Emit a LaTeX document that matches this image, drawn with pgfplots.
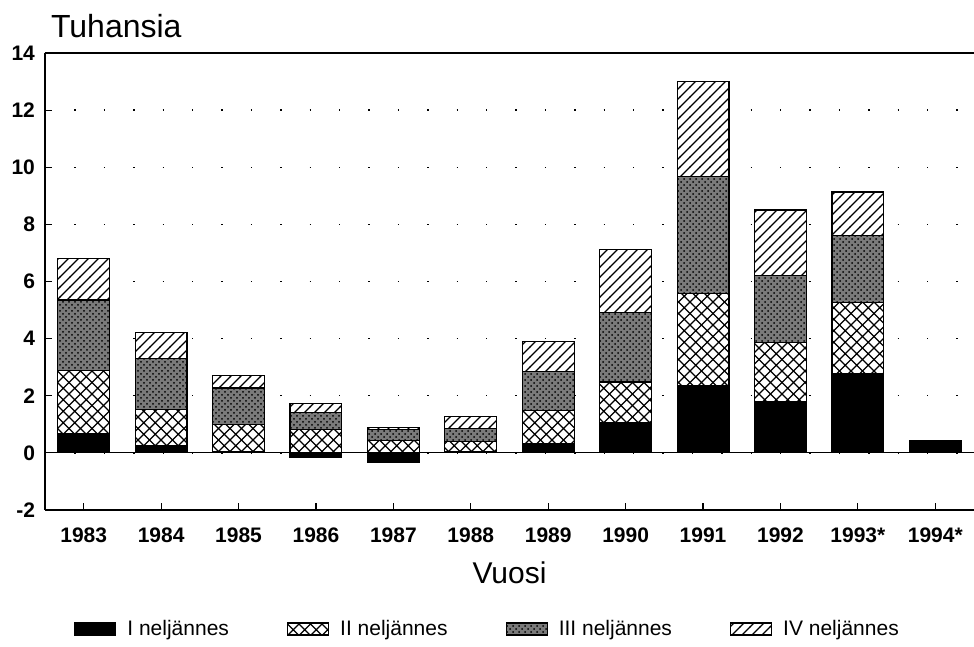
\documentclass[border=0pt]{standalone}
\usepackage{fontspec}
\setmainfont{Liberation Sans}
\usepackage{pgfplots}
\pgfplotsset{compat=1.18}
\usepackage{pgfplotstable}
\usetikzlibrary{patterns}

\pgfdeclarepatternformonly{diagcross}{\pgfqpoint{-1pt}{-1pt}}{\pgfqpoint{6.75pt}{6.75pt}}{\pgfqpoint{5.75pt}{5.75pt}}{%
  \pgfsetlinewidth{0.6pt}%
  \pgfpathmoveto{\pgfqpoint{-0.1pt}{-0.1pt}}\pgfpathlineto{\pgfqpoint{5.85pt}{5.85pt}}%
  \pgfpathmoveto{\pgfqpoint{-0.1pt}{5.85pt}}\pgfpathlineto{\pgfqpoint{5.85pt}{-0.1pt}}%
  \pgfusepath{stroke}}
\pgfdeclarepatternformonly{wideNE}{\pgfqpoint{-1pt}{-1pt}}{\pgfqpoint{6pt}{6pt}}{\pgfqpoint{5pt}{5pt}}{%
  \pgfsetlinewidth{0.6pt}%
  \pgfpathmoveto{\pgfqpoint{-0.1pt}{-0.1pt}}\pgfpathlineto{\pgfqpoint{5.1pt}{5.1pt}}%
  \pgfusepath{stroke}}

% x: 0=1983 ... 11=1994
\pgfplotstableread{
x I II III IV
0 0.66 2.22 2.47 1.45
1 0.24 1.29 1.78 0.90
2 0.06 0.93 1.28 0.43
3 -0.15 0.81 0.59 0.34
4 -0.35 0.43 0.38 0.09
5 0.04 0.37 0.44 0.41
6 0.33 1.16 1.36 1.05
7 1.06 1.42 2.44 2.21
8 2.36 3.22 4.11 3.31
9 1.80 2.07 2.33 2.30
10 2.77 2.50 2.35 1.51
11 0.42 0 0 0
}\datatable

\begin{document}
\begin{tikzpicture}
\path[use as bounding box] (-22.5pt,-68.5pt) rectangle (464.5pt,255pt);
\begin{axis}[
  at={(0pt,0pt)}, anchor=south west,
  scale only axis, width=464.5pt, height=228.5pt,
  ybar stacked, bar width=0.67,
  xmin=-0.5, xmax=11.5, ymin=-2, ymax=14,
  ytick={-2,0,...,14},
  xtick={0,...,11},
  xticklabels={1983,1984,1985,1986,1987,1988,1989,1990,1991,1992,1993*,1994*},
  axis x line=box, axis y line=left,
  axis line style={-, line width=0.6pt},
  xtick pos=left, ytick pos=left, tick align=inside,
  major tick length=3.5pt,
  tick style={black, line width=0.6pt},
  /pgf/number format/assume math mode=true,
  tick label style={font=\fontsize{10.5}{12}\selectfont\bfseries},
  xticklabel style={yshift=-5.5pt},
  yticklabel style={xshift=-1.5pt},
  ymajorgrids,
  grid style={black, line width=0.7pt, dash pattern=on 0.7pt off 14pt},
  extra y ticks={0}, extra y tick labels={},
  extra y tick style={grid style={solid, black, line width=0.6pt}, major tick length=0pt},
  title={Tuhansia},
  title style={at={(axis description cs:0,1)}, anchor=base west, xshift=-0.5pt, yshift=1.5pt, font=\fontsize{16}{19}\selectfont},
  xlabel={Vuosi},
  xlabel style={at={(axis description cs:0.5,0)}, anchor=base, yshift=-36.5pt, font=\fontsize{15}{18}\selectfont},
  legend columns=4,
  legend style={at={(0.4774,-0.2604)}, anchor=center, draw=none,
    font=\fontsize{10.5}{12}\selectfont,
    /tikz/every odd column/.append style={column sep=3.5pt},
    /tikz/every even column/.append style={column sep=27pt}},
  every axis plot post/.append style={line width=0.6pt,
    legend image code/.code={\draw[##1, line width=0.6pt] (0pt,-3pt) rectangle (20.5pt,3pt);}},
]
\addplot[draw=black, fill=black] table[x=x, y=I] {\datatable};
\addplot[draw=black, fill=white, postaction={pattern=diagcross}] table[x=x, y=II] {\datatable};
\addplot[draw=black, fill=black!52, postaction={pattern=crosshatch dots}] table[x=x, y=III] {\datatable};
\addplot[draw=black, fill=white, postaction={pattern=wideNE}] table[x=x, y=IV] {\datatable};
\legend{I neljännes, II neljännes, III neljännes, IV neljännes}
\end{axis}
\end{tikzpicture}
\end{document}
